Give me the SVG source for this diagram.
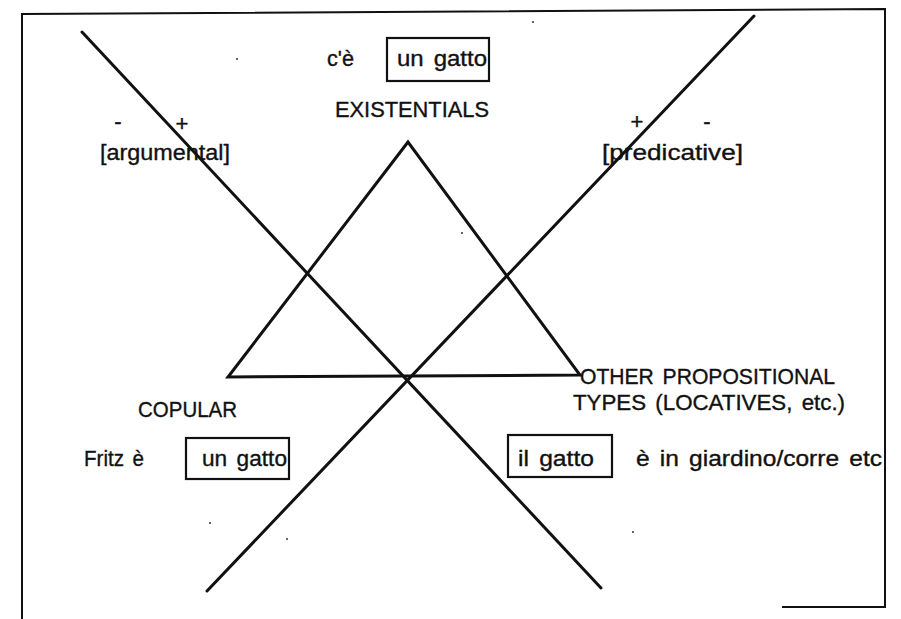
<svg xmlns="http://www.w3.org/2000/svg" width="901" height="619" viewBox="0 0 901 619">
<style>
text{font-family:"Liberation Sans",Arial,Helvetica,sans-serif;font-size:22px;fill:#111;stroke:#111;stroke-width:0.35;word-spacing:3px;}
.ln{stroke:#111;stroke-width:3;fill:none;stroke-linecap:round;stroke-linejoin:miter;}
.box{stroke:#111;stroke-width:2.2;fill:none;}
.frame{stroke:#111;stroke-width:2;fill:none;}
.sign{font-size:22px;text-anchor:middle;}
.speck{fill:#333;}
</style>
<rect width="901" height="619" fill="#fff"/>
<g id="frame">
<polyline class="frame" points="22,619 22,14 885,9 885,607 782,607"/>
</g>
<g id="connectors">
<line class="ln" x1="82" y1="32" x2="601" y2="588"/>
<line class="ln" x1="754" y1="16" x2="207" y2="591"/>
<polygon class="ln" points="408,142 228,377 580,375"/>
</g>
<g id="existentials">
<text x="327" y="66" textLength="27" lengthAdjust="spacingAndGlyphs">c'è</text>
<rect class="box" x="387" y="38" width="102" height="43"/>
<text x="397" y="66" textLength="90" lengthAdjust="spacingAndGlyphs">un gatto</text>
<text x="335" y="117" textLength="154" lengthAdjust="spacingAndGlyphs">EXISTENTIALS</text>
</g>
<g id="argumental">
<text class="sign" x="118" y="129">-</text>
<text class="sign" x="182" y="131">+</text>
<text x="100" y="160" font-size="23" textLength="130" lengthAdjust="spacingAndGlyphs">[argumental]</text>
</g>
<g id="predicative">
<text class="sign" x="637" y="129">+</text>
<text class="sign" x="707" y="129">-</text>
<text x="602" y="160" font-size="23" textLength="141" lengthAdjust="spacingAndGlyphs">[predicative]</text>
</g>
<g id="copular">
<text x="138" y="417" textLength="99" lengthAdjust="spacingAndGlyphs">COPULAR</text>
<text x="84" y="466" textLength="60" lengthAdjust="spacingAndGlyphs">Fritz è</text>
<rect class="box" x="186" y="438" width="103" height="41"/>
<text x="202" y="466" textLength="85" lengthAdjust="spacingAndGlyphs">un gatto</text>
</g>
<g id="other">
<text x="580" y="384" textLength="255" lengthAdjust="spacingAndGlyphs">OTHER PROPOSITIONAL</text>
<text x="573" y="410" textLength="272" lengthAdjust="spacingAndGlyphs">TYPES (LOCATIVES, etc.)</text>
<rect class="box" x="508" y="435" width="104" height="42"/>
<text x="518" y="466" textLength="76" lengthAdjust="spacingAndGlyphs">il gatto</text>
<text x="636" y="466" textLength="246" lengthAdjust="spacingAndGlyphs">è in giardino/corre etc</text>
</g>
<g id="specks">
<circle class="speck" cx="237" cy="59" r="1"/>
<circle class="speck" cx="533" cy="22" r="1"/>
<circle class="speck" cx="462" cy="233" r="1"/>
<circle class="speck" cx="210" cy="523" r="1"/>
<circle class="speck" cx="287" cy="539" r="1"/>
<circle class="speck" cx="633" cy="532" r="1"/>
</g>
</svg>
